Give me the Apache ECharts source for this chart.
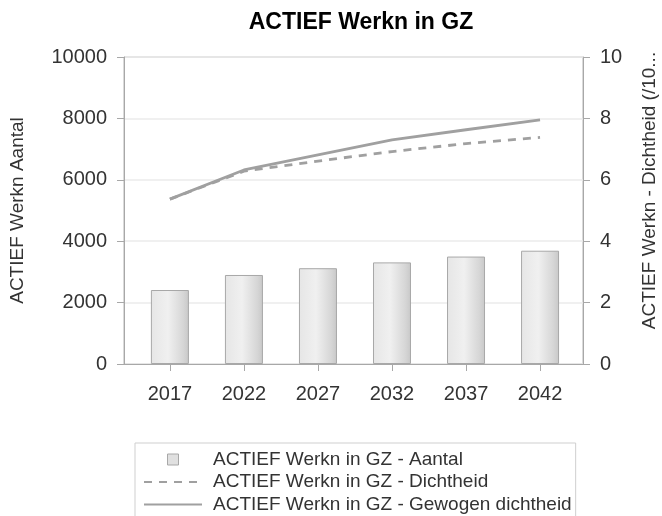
<!DOCTYPE html>
<html>
<head>
<meta charset="utf-8">
<script src="https://cdn.jsdelivr.net/npm/echarts@6/dist/echarts.min.js"></script>
<style>
  html, body { margin: 0; padding: 0; background: #fff; }
  #chart { width: 662px; height: 516px; }
</style>
</head>
<body>
<div id="chart"></div>
<script>
  // years on the x axis
  const years = [2017, 2022, 2027, 2032, 2037, 2042];
  // ACTIEF Werkn in GZ - Aantal (left axis)
  const aantal = [2410, 2900, 3120, 3310, 3500, 3690];
  // ACTIEF Werkn in GZ - Dichtheid (right axis)
  const dichtheid = [5.37, 6.28, 6.61, 6.92, 7.18, 7.38];
  // ACTIEF Werkn in GZ - Gewogen dichtheid (right axis)
  const gewogen = [5.37, 6.32, 6.81, 7.30, 7.63, 7.95];

  const font = 'Liberation Sans, Arial, sans-serif';
  const pair = arr => years.map((y, i) => [y, arr[i]]);
  const hideSymbol = { color: 'transparent', borderWidth: 0, opacity: 0 };

  const chart = echarts.init(document.getElementById('chart'));

  const option = {
    animation: false,
    title: {
      text: 'ACTIEF Werkn in GZ',
      left: 356,
      textAlign: 'center',
      top: 6,
      textStyle: { fontFamily: font, fontSize: 23, fontWeight: 'bold', color: '#000' }
    },
    grid: {
      left: 124,
      right: 79,
      top: 57,
      bottom: 152,
      outerBoundsMode: 'none',
      containLabel: false,
      show: true,
      borderColor: '#b4b4b4',
      borderWidth: 1
    },
    legend: {
      orient: 'vertical',
      left: 135,
      top: 443,
      height: 120,
      padding: [7, 4, 6, 8],
      borderColor: '#cfcfcf',
      borderWidth: 1,
      itemWidth: 58,
      itemHeight: 11,
      itemGap: 3.5,
      symbolKeepAspect: true,
      textStyle: { fontFamily: font, fontSize: 19, lineHeight: 19, color: '#333', padding: [0, 0, 0, 6] },
      data: [
        {
          name: 'ACTIEF Werkn in GZ - Aantal',
          icon: 'path://M0,0L10,0L10,10L0,10Z',
          itemStyle: { color: '#e0e0e0', borderColor: '#a8a8a8', borderWidth: 1 }
        },
        { name: 'ACTIEF Werkn in GZ - Dichtheid', itemStyle: hideSymbol },
        { name: 'ACTIEF Werkn in GZ - Gewogen dichtheid', itemStyle: hideSymbol }
      ]
    },
    xAxis: {
      type: 'value',
      min: 2013.9,
      max: 2044.9,
      axisLine: { show: true, lineStyle: { color: '#a8a8a8' } },
      axisTick: { show: true, customValues: years, length: 7, lineStyle: { color: '#a8a8a8' } },
      axisLabel: {
        customValues: years,
        margin: 20,
        fontFamily: font,
        fontSize: 20,
        color: '#333',
        formatter: v => String(v)
      },
      splitLine: { show: false }
    },
    yAxis: [
      {
        type: 'value',
        min: 0,
        max: 10000,
        interval: 2000,
        name: 'ACTIEF Werkn Aantal',
        nameLocation: 'middle',
        nameGap: 97,
        nameTextStyle: { fontFamily: font, fontSize: 19, color: '#333' },
        axisLine: { show: true, lineStyle: { color: '#a8a8a8' } },
        axisTick: { show: true, length: 7, lineStyle: { color: '#a8a8a8' } },
        axisLabel: { margin: 17, fontFamily: font, fontSize: 20, color: '#333', formatter: v => String(v) },
        splitLine: { show: true, lineStyle: { color: '#ebebeb', width: 1.5 } }
      },
      {
        type: 'value',
        min: 0,
        max: 10,
        interval: 2,
        position: 'right',
        name: 'ACTIEF Werkn - Dichtheid (/10...',
        nameLocation: 'middle',
        nameGap: 57,
        nameRotate: 90,
        nameTextStyle: { fontFamily: font, fontSize: 19, color: '#333', padding: [0, 0, 0, 40] },
        axisLine: { show: true, lineStyle: { color: '#a8a8a8' } },
        axisTick: { show: true, length: 7, lineStyle: { color: '#a8a8a8' } },
        axisLabel: { margin: 17, fontFamily: font, fontSize: 20, color: '#333' },
        splitLine: { show: false }
      }
    ],
    series: [
      {
        name: 'ACTIEF Werkn in GZ - Aantal',
        type: 'bar',
        yAxisIndex: 0,
        barWidth: 38,
        data: pair(aantal),
        itemStyle: {
          color: new echarts.graphic.LinearGradient(0, 0, 1, 0, [
            { offset: 0, color: '#e6e6e6' },
            { offset: 0.45, color: '#f0f0f0' },
            { offset: 0.85, color: '#d6d6d6' },
            { offset: 1, color: '#c8c8c8' }
          ]),
          borderColor: '#a8a8a8',
          borderWidth: 1
        }
      },
      {
        name: 'ACTIEF Werkn in GZ - Dichtheid',
        type: 'line',
        yAxisIndex: 1,
        data: pair(dichtheid),
        symbol: 'none',
        lineStyle: { color: '#a0a0a0', width: 2.8, type: [8, 7] },
        itemStyle: { color: '#a0a0a0' }
      },
      {
        name: 'ACTIEF Werkn in GZ - Gewogen dichtheid',
        type: 'line',
        yAxisIndex: 1,
        data: pair(gewogen),
        symbol: 'none',
        lineStyle: { color: '#a0a0a0', width: 2.8 },
        itemStyle: { color: '#a0a0a0' }
      }
    ]
  };

  chart.setOption(option);
</script>
</body>
</html>
